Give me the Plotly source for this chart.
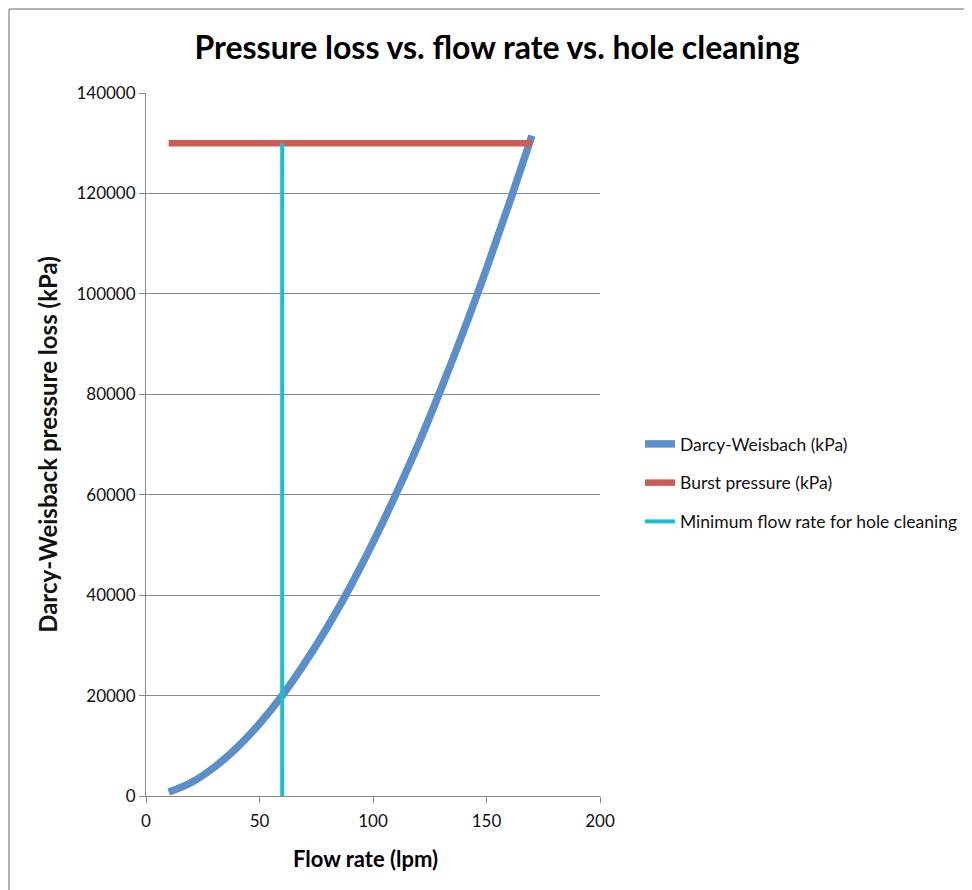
import plotly.graph_objects as go

flow_lpm = [10, 20, 30, 40, 50, 60, 70, 80, 90, 100, 110, 120, 130, 140, 150, 160, 170]
darcy_kpa = [800, 2700, 5700, 9600, 14400, 20000, 26500, 33700, 41700, 50500,
             60000, 70100, 81100, 92700, 105000, 118000, 131500]
burst_x = [10, 170]
burst_kpa = [130000, 130000]
min_flow_x = [60, 60]
min_flow_y = [0, 130000]

x_ticks = [0, 50, 100, 150, 200]
y_ticks = [0, 20000, 40000, 60000, 80000, 100000, 120000, 140000]

OFF = 8  # page body offset
W, H = 972 - OFF, 890 - OFF
L, R, T, B = 146 - OFF, 600 - OFF, 93 - OFF, 796 - OFF
pw, ph = R - L, B - T

def px(xp):
    return (xp - OFF - L) / pw

def py(yp):
    return (B - (yp - OFF)) / ph

fig = go.Figure()
fig.add_trace(go.Scatter(x=flow_lpm, y=darcy_kpa, mode="lines", name="Darcy-Weisbach (kPa)",
                         legendgroup="a",
                         line=dict(color="#5B8FC9", width=7.5, shape="spline")))
fig.add_trace(go.Scatter(x=burst_x, y=burst_kpa, mode="lines", name="Burst pressure (kPa)",
                         legendgroup="b",
                         line=dict(color="#CD5C57", width=6.5)))
fig.add_trace(go.Scatter(x=min_flow_x, y=min_flow_y, mode="lines", name="Minimum flow rate for hole cleaning",
                         legendgroup="c",
                         line=dict(color="#1CBFD0", width=4)))

font = "Lato, 'Open Sans', sans-serif"

fig.update_layout(
    width=W, height=H,
    margin=dict(l=L, r=W - R, t=T, b=H - B, pad=0, autoexpand=False),
    paper_bgcolor="white", plot_bgcolor="white",
    font=dict(family=font, color="#111111", size=15),
    title=dict(text="<b>Pressure loss vs. flow rate vs. hole cleaning</b>",
               x=(497 - OFF) / W, xanchor="center", y=1 - (48 - OFF) / H, yanchor="middle",
               font=dict(size=32, family=font, color="#000000")),
    xaxis=dict(range=[0, 200], tickvals=x_ticks, ticks="outside", ticklen=6, tickcolor="#888888",
               showline=True, linecolor="#888888", linewidth=1, showgrid=False, zeroline=False,
               tickfont=dict(size=17), ticklabelstandoff=4),
    yaxis=dict(range=[0, 140000], tickvals=y_ticks, ticks="outside", ticklen=6, tickcolor="#888888",
               showline=True, linecolor="#888888", linewidth=1, showgrid=True, gridcolor="#8a8a8a",
               gridwidth=1, zeroline=False, tickformat="d", tickfont=dict(size=17),
               title=dict(text="<b>Darcy-Weisback pressure loss (kPa)</b>", font=dict(size=24), standoff=12)),
    legend=dict(x=px(640), xanchor="left", y=py(483), yanchor="middle",
                font=dict(size=17.5, color="#111111"), tracegroupgap=13, itemwidth=30,
                bgcolor="rgba(0,0,0,0)"),
    showlegend=True,
)

fig.add_annotation(text="<b>Flow rate (lpm)</b>", xref="paper", yref="paper",
                   x=px(365), y=py(858), xanchor="center", yanchor="middle",
                   showarrow=False, font=dict(size=22, family=font, color="#000000"))

# outer chart border (top and left edges visible)
fig.add_shape(type="line", xref="paper", yref="paper", x0=px(9), x1=px(972), y0=py(9), y1=py(9),
              line=dict(color="#9a9a9a", width=1.5))
fig.add_shape(type="line", xref="paper", yref="paper", x0=px(9), x1=px(9), y0=py(9), y1=py(890),
              line=dict(color="#9a9a9a", width=1.5))

fig.write_html("out.html")
